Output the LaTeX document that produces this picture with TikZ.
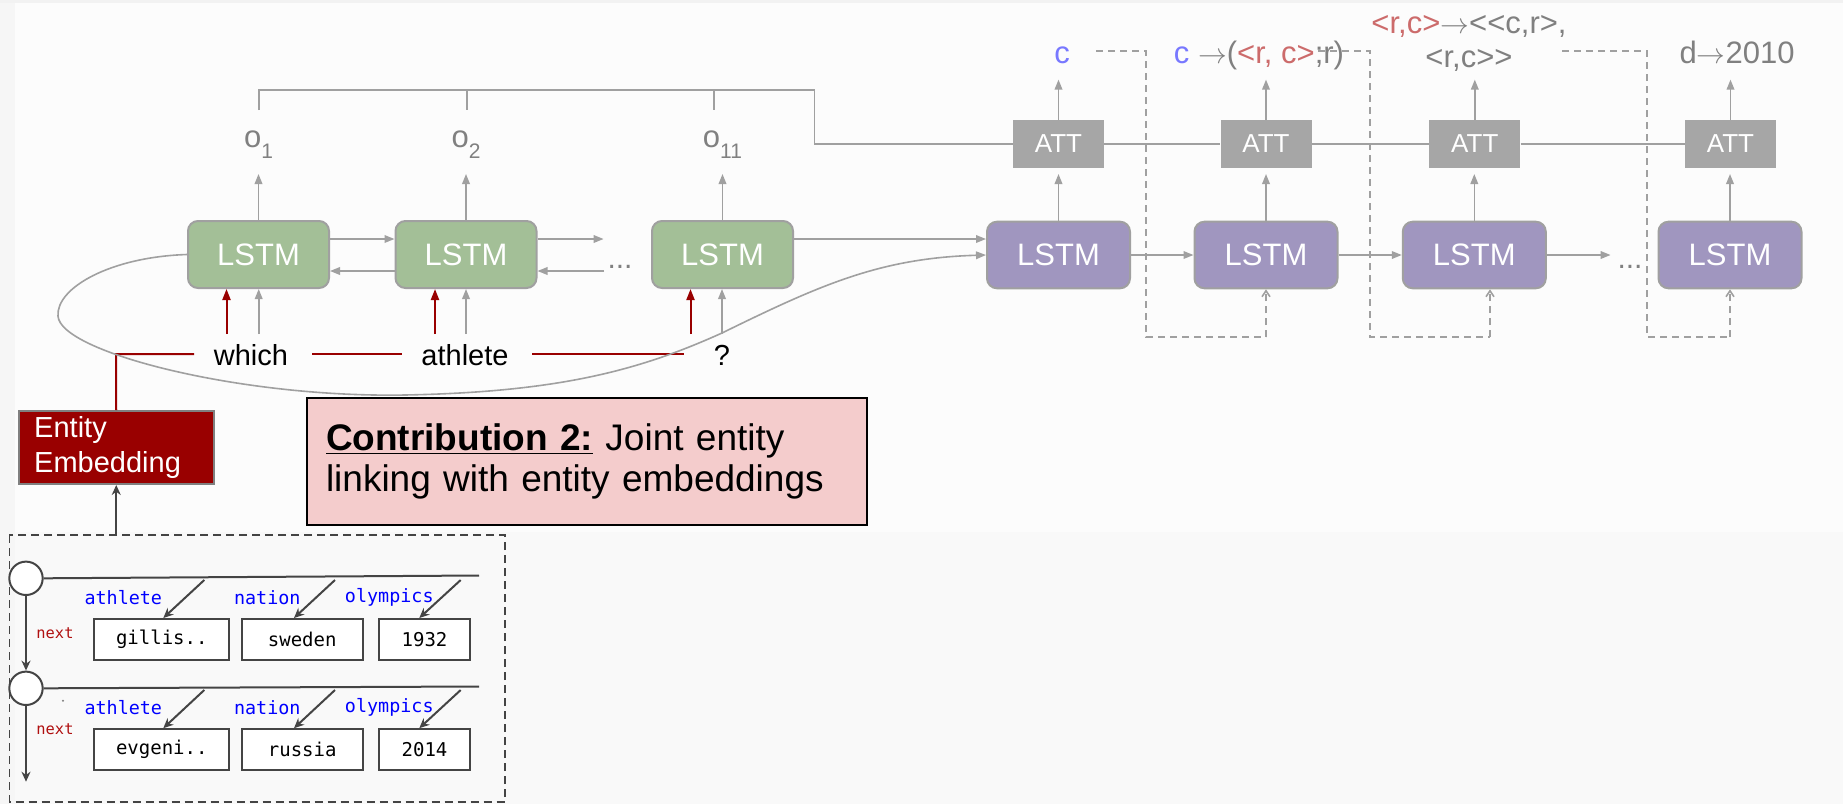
\documentclass[tikz,border=0pt]{standalone}
\usepackage{fontspec}
\setmainfont{Liberation Sans}
\newfontfamily\kbmono{DejaVu Sans Mono}
\usetikzlibrary{arrows.meta,calc}

\definecolor{bgtop}{HTML}{FCFCFC}
\definecolor{bgbot}{HTML}{F9F9F9}
\definecolor{bgside}{HTML}{F6F6F6}
\definecolor{bgband}{HTML}{F2F2F2}
\definecolor{edge}{HTML}{A0A0A0}
\definecolor{lstmgreen}{HTML}{A3BF97}
\definecolor{lstmpurple}{HTML}{A096BF}
\definecolor{attgray}{HTML}{A6A6A6}
\definecolor{darkred}{HTML}{990000}
\definecolor{labgray}{HTML}{808080}
\definecolor{cblue}{HTML}{7878FF}
\definecolor{rcred}{HTML}{CC6B6B}
\definecolor{kbline}{HTML}{444444}
\definecolor{pinkbox}{HTML}{F4CCCC}
\definecolor{kbblue}{HTML}{0000FF}
\definecolor{kbred}{HTML}{B01010}

\newcommand{\osub}[1]{o\raisebox{-5.5pt}{\fontsize{10.5pt}{12pt}\selectfont #1}}
\newcommand{\rarr}{\ensuremath{\rightarrow}}

\tikzset{
  gline/.style={draw=edge, line width=0.8pt},
  garrow/.style={draw=edge, line width=0.8pt, -{Triangle[length=5pt,width=3.8pt]}},
  rline/.style={draw=darkred, line width=1pt},
  rarrow/.style={draw=darkred, line width=1pt, -{Triangle[length=5.5pt,width=4pt]}},
  dashloop/.style={draw=edge, line width=0.8pt, dash pattern=on 3.5pt off 2.5pt},
  loopend/.style={dashloop, -{Straight Barb[length=3pt,width=4pt]}},
  lstmgreenbox/.style={draw=edge, line width=1pt, fill=lstmgreen, rounded corners=5pt,
    minimum width=70.5pt, minimum height=33.5pt, inner sep=0pt, text=white,
    font=\fontsize{15.5pt}{18pt}\selectfont},
  lstmpurplebox/.style={lstmgreenbox, fill=lstmpurple, minimum width=71.5pt, minimum height=33.3pt},
  attbox/.style={fill=attgray, minimum width=45.5pt, minimum height=24pt, inner sep=0pt,
    text=white, font=\fontsize{13pt}{15pt}\selectfont},
  olabel/.style={text=labgray, anchor=base, inner sep=0pt, font=\fontsize{15.5pt}{18pt}\selectfont},
  outlabel/.style={text=labgray, anchor=base, inner sep=0pt, font=\fontsize{15.5pt}{18pt}\selectfont},
  dots/.style={text=labgray, anchor=base, inner sep=0pt, font=\fontsize{15pt}{18pt}\selectfont},
  word/.style={text=black, inner sep=0pt, font=\fontsize{14.5pt}{17pt}\selectfont},
  kbbox/.style={draw=kbline, line width=1pt, fill=white, minimum height=20.5pt, inner sep=0pt,
    font=\kbmono\fontsize{9.5pt}{11pt}\selectfont},
  kblabel/.style={text=kbblue, inner sep=0pt, font=\kbmono\fontsize{9.2pt}{11pt}\selectfont},
  nextlabel/.style={text=kbred, inner sep=0pt, font=\kbmono\fontsize{7.7pt}{9pt}\selectfont},
  kbline/.style={draw=kbline, line width=1pt},
  kbarrow/.style={draw=kbline, line width=1pt, -{Stealth[length=5pt,width=4.5pt]}},
  kbnode/.style={circle, draw=kbline, line width=1pt, fill=white, minimum size=16.7pt, inner sep=0pt},
}

\begin{document}
\begin{tikzpicture}[x=0.5pt,y=-0.5pt]
\useasboundingbox (0,0) rectangle (1843,804);
% page background
\fill[bgtop] (0,0) rectangle (1843,532);
\fill[bgbot] (0,532) rectangle (1843,804);
\fill[bgside] (0,0) rectangle (15,804);
\fill[bgband] (0,0) rectangle (1843,3);

% ---------------- encoder ----------------
\node[lstmgreenbox] (lg1) at (258.5,254.5) {LSTM};
\node[lstmgreenbox] (lg2) at (466,254.5) {LSTM};
\node[lstmgreenbox] (lg3) at (722.5,254.5) {LSTM};
\node[dots] (el1) at (620,268) {...};

\node[olabel] (o1) at (258.5,147) {\osub{1}};
\node[olabel] (o2) at (466,147) {\osub{2}};
\node[olabel] (o3) at (722.5,147) {\osub{11}};

\draw[garrow] (lg1.north) -- ++(0,-46);
\draw[garrow] (lg2.north) -- ++(0,-46);
\draw[garrow] (lg3.north) -- ++(0,-46);

% bidirectional links
\draw[garrow] ([yshift=7.75pt]lg1.east) -- ([yshift=7.75pt]lg2.west);
\draw[garrow] ([yshift=-8.25pt]lg2.west) -- ([yshift=-8.25pt]lg1.east);
\coordinate (fwdEnd) at (603.6,239);
\coordinate (bwdStart) at (604,271);
\draw[garrow] ([yshift=7.75pt]lg2.east) -- (fwdEnd);
\draw[garrow] (bwdStart) -- ([yshift=-8.25pt]lg2.east);

% question words
\node[word] (w1) at (251,355) {which};
\node[word] (w2) at (465,355) {athlete};
\node[word] (w3) at (722,355) {?};

\coordinate (r1) at (226.5,334);  \coordinate (g1) at (258.7,334);
\coordinate (r2) at (435,334);    \coordinate (g2) at (466,334);
\coordinate (r3) at (690.5,334);  \coordinate (g3) at (722,334);
\draw[rarrow] (r1) -- (r1 |- lg1.south);
\draw[garrow] (g1) -- (g1 |- lg1.south);
\draw[rarrow] (r2) -- (r2 |- lg2.south);
\draw[garrow] (g2) -- (g2 |- lg2.south);
\draw[rarrow] (r3) -- (r3 |- lg3.south);
\draw[garrow] (g3) -- (g3 |- lg3.south);

% entity embedding
\node[draw=labgray, line width=1pt, fill=darkred, text=white, minimum width=97.25pt,
      minimum height=36.5pt, inner xsep=7.5pt, inner ysep=0pt, text width=82pt, align=left,
      font=\fontsize{14.5pt}{17.5pt}\selectfont] (ee) at (116.25,447.5) {Entity\\Embedding};

% red entity links along the words
\coordinate (eeTurn) at (116,354);
\coordinate (rA) at (194,354);
\coordinate (rB) at (312,354);  \coordinate (rC) at (401.5,354);
\coordinate (rD) at (532,354);  \coordinate (rE) at (684,354);
\draw[rline] (ee.north) -- (eeTurn) -- (rA);
\draw[rline] (rB) -- (rC);
\draw[rline] (rD) -- (rE);

% contribution box
\node[draw=black, line width=1pt, fill=pinkbox, minimum width=280pt, minimum height=63.5pt,
      inner xsep=9.5pt, text width=261pt, align=left,
      font=\fontsize{18.5pt}{20.5pt}\selectfont] (contrib) at (587,461.4)
      {\underline{\textbf{Contribution 2:}} Joint entity\\linking with entity embeddings};

% ---------------- decoder ----------------
\node[lstmpurplebox] (lp1) at (1058.5,255) {LSTM};
\node[lstmpurplebox] (lp2) at (1266,255) {LSTM};
\node[lstmpurplebox] (lp3) at (1474.3,255) {LSTM};
\node[lstmpurplebox] (lp4) at (1730,255) {LSTM};
\node[dots] (el2) at (1630,268) {...};

\node[attbox] (at1) at (1058.5,144) {ATT};
\node[attbox] (at2) at (1266,144) {ATT};
\node[attbox] (at3) at (1474.8,144) {ATT};
\node[attbox] (at4) at (1730.5,144) {ATT};

\draw[garrow] ([yshift=7.75pt]lg3.east) -- ([yshift=7.75pt]lg3.east -| lp1.west);
\draw[garrow] (lp1.east) -- (lp2.west);
\draw[garrow] (lp2.east) -- (lp3.west);
\coordinate (decEnd) at (1610.6,255);
\draw[garrow] (lp3.east) -- (decEnd);

% encoder final state loop into the decoder
\draw[garrow] (lg1.west) .. controls (110,257) and (56,288) .. (58,316)
  .. controls (60,352) and (240,398) .. (405,395)
  .. controls (560,392) and (640,370) .. (722,333)
  .. controls (820,285) and (880,258) .. (lp1.west);

% attention over the encoder outputs
\coordinate (brA) at (259,110);  \coordinate (brB) at (259,90);
\coordinate (brC) at (814.6,90); \coordinate (brD) at (814.6,144);
\coordinate (tk2a) at (467,90);  \coordinate (tk2b) at (467,110);
\coordinate (tk3a) at (714,90);  \coordinate (tk3b) at (714,110);
\draw[gline] (brA) -- (brB) -- (brC) -- (brD) -- (at1.west);
\draw[gline] (tk2a) -- (tk2b);
\draw[gline] (tk3a) -- (tk3b);
\draw[gline] (at1.east) -- (at2.west);
\draw[gline] (at2.east) -- (at3.west);
\draw[gline] (at3.east) -- (at4.west);

\foreach \i in {1,2,3,4} {
  \draw[garrow] (lp\i.north) -- ++(0,-46.7);
  \draw[garrow] (at\i.north) -- ++(0,-40);
}

% decoder outputs
\node[outlabel] (out1) at (1062,63.3) {\textcolor{cblue}{c}};
\node[outlabel] (out2) at (1259,63.3) {\textcolor{cblue}{c} \rarr(\textcolor{rcred}{<r, c>};r)};
\node[outlabel] (out3a) at (1469,33.5) {\textcolor{rcred}{<r,c>}\rarr<{}<c,r>,};
\node[outlabel] (out3b) at (1469,67) {<r,c>{}>};
\node[outlabel] (out4) at (1737,63.3) {d\rarr2010};

% feeding previous outputs back in
\coordinate (fa1) at (1096,51);   \coordinate (fa2) at (1146,51);
\coordinate (fa3) at (1146,337);  \coordinate (fa4) at (1266,337);
\draw[dashloop] (fa1) -- (fa2) -- (fa3) -- (fa4);
\draw[loopend] (fa4) -- (lp2.south);

\coordinate (fb1) at (1318,51);    \coordinate (fb2) at (1369.7,51);
\coordinate (fb3) at (1369.7,337); \coordinate (fb4) at (1490,337);
\draw[dashloop] (fb1) -- (fb2) -- (fb3) -- (fb4);
\draw[loopend] (fb4) -- (fb4 |- lp3.south);

\coordinate (fc1) at (1562,51);    \coordinate (fc2) at (1646.7,51);
\coordinate (fc3) at (1646.7,337); \coordinate (fc4) at (1730,337);
\draw[dashloop] (fc1) -- (fc2) -- (fc3) -- (fc4);
\draw[loopend] (fc4) -- (lp4.south);

% ---------------- knowledge base table ----------------
\draw[kbline, line width=0.8pt, dash pattern=on 4pt off 2.5pt] (9.3,535) rectangle (505,801.7);
\coordinate (kbTop) at (116.25,535);
\draw[kbarrow] (kbTop) -- (ee.south);

\node[kbnode] (c1) at (26,578.3) {};
\node[kbnode] (c2) at (26,688.3) {};
\coordinate (row1End) at (479,575.5);
\coordinate (row2End) at (479,686.5);
\draw[kbline] (c1.east) -- (row1End);
\draw[kbline] (c2.east) -- (row2End);
\draw[kbarrow] (c1.south) -- (c2.north);
\coordinate (listEnd) at (26,781.7);
\draw[kbarrow] (c2.south) -- (listEnd);
\fill[labgray] (63,700.7) circle (0.6pt);

\node[nextlabel] (nx1) at (55,633.3) {next};
\node[nextlabel] (nx2) at (55,729.3) {next};

\node[kblabel] (l11) at (123.3,597.3) {athlete};
\node[kblabel] (l12) at (267.3,597.3) {nation};
\node[kblabel] (l13) at (389.3,597.3) {olympics};
\node[kblabel] (l21) at (123.3,707.3) {athlete};
\node[kblabel] (l22) at (267.3,707.3) {nation};
\node[kblabel] (l23) at (389.3,707.3) {olympics};

\node[kbbox, minimum width=67.5pt] (b11) at (161.8,639.5) {gillis..};
\node[kbbox, minimum width=60.5pt] (b12) at (302.2,639.5) {sweden};
\node[kbbox, minimum width=45.5pt] (b13) at (424.5,639.5) {1932};
\node[kbbox, minimum width=67.5pt] (b21) at (161.8,749.7) {evgeni..};
\node[kbbox, minimum width=60.5pt] (b22) at (302.2,749.7) {russia};
\node[kbbox, minimum width=45.5pt] (b23) at (424.5,749.7) {2014};

\coordinate (s11) at (204.3,580);  \coordinate (s12) at (335,580);  \coordinate (s13) at (460.7,580);
\coordinate (s21) at (204.3,690);  \coordinate (s22) at (335,690);  \coordinate (s23) at (460.7,690);
\draw[kbarrow] (s11) -- ([xshift=0.75pt]b11.north);
\draw[kbarrow] (s12) -- ([xshift=-4.1pt]b12.north);
\draw[kbarrow] (s13) -- ([xshift=-2.6pt]b13.north);
\draw[kbarrow] (s21) -- ([xshift=0.75pt]b21.north);
\draw[kbarrow] (s22) -- ([xshift=-4.1pt]b22.north);
\draw[kbarrow] (s23) -- ([xshift=-2.6pt]b23.north);
\end{tikzpicture}
\end{document}
